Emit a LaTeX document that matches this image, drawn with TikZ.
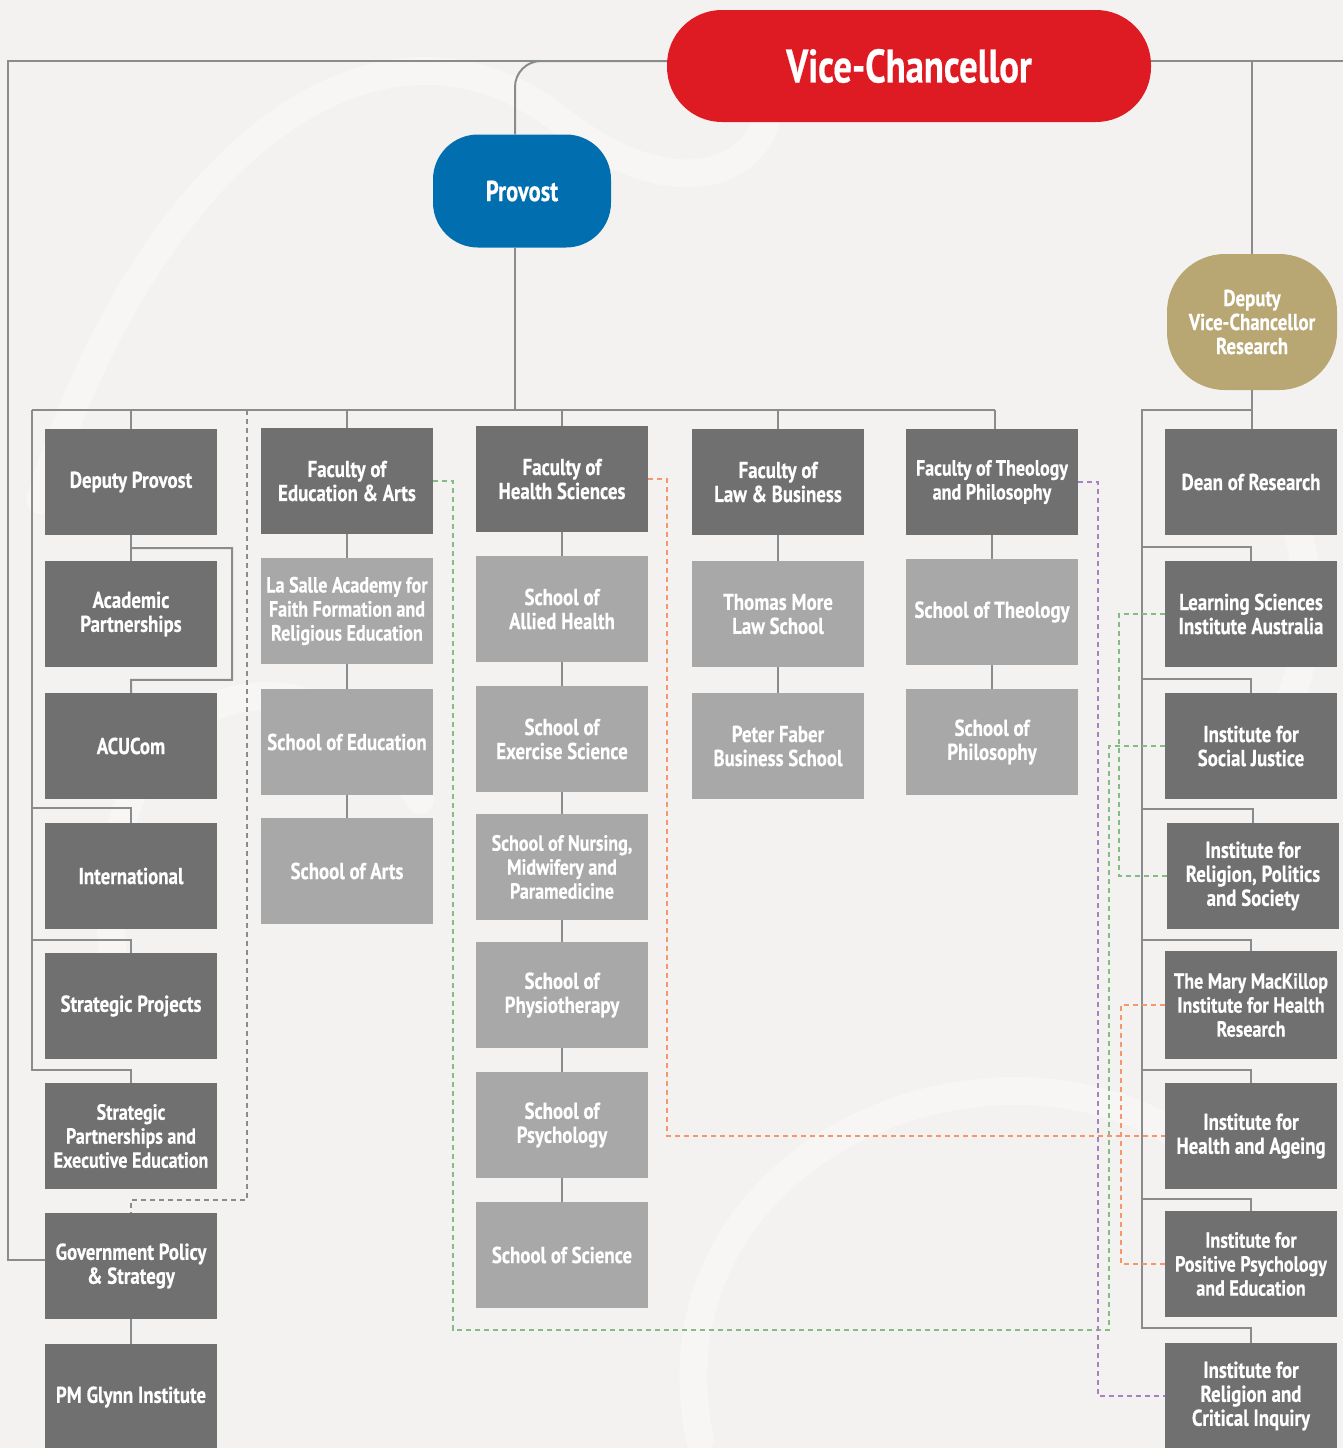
\documentclass[tikz,border=0pt]{standalone}
\usepackage{fontspec}
\newfontfamily\labfont{PT Sans}[FakeStretch=0.82, FakeBold=0.4]
\newfontfamily\topfont{PT Sans}[FakeStretch=0.78, FakeBold=0.4]
\usetikzlibrary{calc,backgrounds}
\definecolor{bgc}{HTML}{F3F2F0}
\definecolor{swirl}{HTML}{F7F6F4}
\definecolor{darkbox}{HTML}{707070}
\definecolor{lightbox}{HTML}{A9A8A9}
\definecolor{vcred}{HTML}{DE1B22}
\definecolor{provblue}{HTML}{006EAF}
\definecolor{gold}{HTML}{B8A773}
\definecolor{linec}{HTML}{898B8D}
\definecolor{dgreen}{HTML}{86BC84}
\definecolor{dorange}{HTML}{F4976D}
\definecolor{dpurple}{HTML}{A881C0}
\newcommand\boxfont{\labfont\bfseries\fontsize{23}{24}\selectfont}
\newcommand\smallboxfont{\labfont\bfseries\fontsize{22}{24}\selectfont}
\tikzset{
  dbox/.style={fill=darkbox, text=white, minimum width=172pt, minimum height=106pt, inner sep=0pt, align=center, font=\boxfont},
  lbox/.style={dbox, fill=lightbox},
  conn/.style={draw=linec, line width=2pt},
  dsh/.style={line width=1.6pt, dash pattern=on 5pt off 4pt},
  gdash/.style={dsh, draw=linec},
  grdash/.style={dsh, draw=dgreen},
  ordash/.style={dsh, draw=dorange},
  pudash/.style={dsh, draw=dpurple}
}
\begin{document}
\begin{tikzpicture}[x=1pt,y=-1pt]
\useasboundingbox (0,0) rectangle (1343,1448);

% top nodes
\node[fill=vcred, text=white, rounded corners=55pt, minimum width=484pt, minimum height=112pt, inner sep=0pt, font=\topfont\bfseries\fontsize{47}{50}\selectfont] (vc) at (909,66) {Vice-Chancellor};
\node[fill=provblue, text=white, rounded corners=45pt, minimum width=178pt, minimum height=113pt, inner sep=0pt, font=\topfont\bfseries\fontsize{29}{30}\selectfont] (prov) at (522,191) {Provost};
\node[fill=gold, text=white, rounded corners=58pt, minimum width=170pt, minimum height=136pt, inner sep=0pt, align=center, font=\labfont\bfseries\fontsize{23}{24}\selectfont] (dvc) at (1252,322) {Deputy\\Vice-Chancellor\\Research};

% left column
\node[dbox] (dp) at (131,482) {Deputy Provost};
\node[dbox] (ap) at (131,614) {Academic\\Partnerships};
\node[dbox] (acu) at (131,746) {ACUCom};
\node[dbox] (intl) at (131,876) {International};
\node[dbox] (sproj) at (131,1006) {Strategic Projects};
\node[dbox, font=\smallboxfont] (sppe) at (131,1136) {Strategic\\Partnerships and\\Executive Education};
\node[dbox] (gps) at (131,1266) {Government Policy\\\& Strategy};
\node[dbox] (pmg) at (131,1397) {PM Glynn Institute};

% education & arts
\node[dbox] (fea) at (347,481) {Faculty of\\Education \& Arts};
\node[lbox, font=\smallboxfont] (lasalle) at (347,611) {La Salle Academy for\\Faith Formation and\\Religious Education};
\node[lbox] (soe) at (347,742) {School of Education};
\node[lbox] (soa) at (347,871) {School of Arts};

% health sciences
\node[dbox] (fhs) at (562,479) {Faculty of\\Health Sciences};
\node[lbox] (sah) at (562,609) {School of\\Allied Health};
\node[lbox] (ses) at (562,739) {School of\\Exercise Science};
\node[lbox, font=\smallboxfont] (snmp) at (562,867) {School of Nursing,\\Midwifery and\\Paramedicine};
\node[lbox] (sphys) at (562,995) {School of\\Physiotherapy};
\node[lbox] (spsy) at (562,1125) {School of\\Psychology};
\node[lbox] (ssci) at (562,1255) {School of Science};

% law & business
\node[dbox] (flb) at (778,482) {Faculty of\\Law \& Business};
\node[lbox] (tmls) at (778,614) {Thomas More\\Law School};
\node[lbox] (pfbs) at (778,746) {Peter Faber\\Business School};

% theology & philosophy
\node[dbox, font=\smallboxfont] (fth) at (992,482) {Faculty of Theology\\and Philosophy};
\node[lbox] (sth) at (992,612) {School of Theology};
\node[lbox] (sph) at (992,742) {School of\\Philosophy};

% research column
\node[dbox] (dor) at (1251,482) {Dean of Research};
\node[dbox] (lsia) at (1251,614) {Learning Sciences\\Institute Australia};
\node[dbox] (isj) at (1251,746) {Institute for\\Social Justice};
\node[dbox] (irps) at (1253,876) {Institute for\\Religion, Politics\\and Society};
\node[dbox, minimum height=108pt, font=\smallboxfont] (mmk) at (1251,1005) {The Mary MacKillop\\Institute for Health\\Research};
\node[dbox] (iha) at (1251,1136) {Institute for\\Health and Ageing};
\node[dbox, font=\smallboxfont] (ippe) at (1251,1264) {Institute for\\Positive Psychology\\and Education};
\node[dbox] (irci) at (1251,1396) {Institute for\\Religion and\\Critical Inquiry};

\begin{pgfonlayer}{background}
\fill[bgc] (0,0) rectangle (1343,1448);
% faint background swirls
\begin{scope}[draw=swirl, line width=28pt, line cap=round]
\draw (40,500) .. controls (150,150) and (380,-20) .. (560,120);
\draw (560,120) .. controls (700,230) and (800,150) .. (760,60);
\draw (120,1000) .. controls (60,700) and (300,600) .. (420,800);
\draw (700,1440) .. controls (640,1150) and (1000,1000) .. (1200,1150);
\draw (1200,500) .. controls (1300,420) and (1330,600) .. (1290,700);
\end{scope}

% coordinates
\coordinate (busL) at (32,410);
\coordinate (busR) at (995,410);
\coordinate (vcL) at (8,61);
\coordinate (vcw) at ($(vc.west)+(0,-5)$);
\coordinate (vce) at ($(vc.east)+(0,-5)$);
\coordinate (rbus) at (1142,410);

% vice-chancellor links
\draw[conn] (vcw) -- (vcL) -- (8,1260) -- (gps.west |- 0,1260);
\draw[conn] (vce) -- (1343,61);
\draw[conn] (dvc.north |- vce) -- (dvc.north);
\draw[conn, rounded corners=26pt] ($(prov.north)+(-7,0)$) |- (vcw);

% provost bus
\draw[conn] ($(prov.south)+(-7,0)$) -- (515,410);
\draw[conn] (busL) -- (busR);
\draw[conn] (dp.north |- busL) -- (dp.north);
\draw[conn] (fea.north |- busL) -- (fea.north);
\draw[conn] (fhs.north |- busL) -- (fhs.north);
\draw[conn] (flb.north |- busL) -- (flb.north);
\draw[conn] (busR) -- (fth.north -| busR);

% left column links
\draw[conn] (busL) -- (32,1070) -| (sppe.north);
\draw[conn] (32,808) -| (intl.north);
\draw[conn] (32,940) -| (sproj.north);
\draw[conn] (dp.south) -- (ap.north);
\draw[conn] ($(dp.south)+(0,13)$) -- (232,548) |- ($(acu.north)+(0,-13)$) -- (acu.north);
\draw[gdash] (247,410) -- (247,1200) -| (gps.north);
\draw[conn] (gps.south) -- (pmg.north);

% faculty columns
\draw[conn] (fea.south) -- (lasalle.north) (lasalle.south) -- (soe.north) (soe.south) -- (soa.north);
\draw[conn] (fhs.south) -- (sah.north) (sah.south) -- (ses.north) (ses.south) -- (snmp.north)
  (snmp.south) -- (sphys.north) (sphys.south) -- (spsy.north) (spsy.south) -- (ssci.north);
\draw[conn] (flb.south) -- (tmls.north) (tmls.south) -- (pfbs.north);
\draw[conn] (fth.south) -- (sth.north) (sth.south) -- (sph.north);

% research column links
\draw[conn] (dvc.south) -- (dvc.south |- dor.north);
\draw[conn] (dvc.south |- rbus) -- (rbus) -- (1142,1328) -| (irci.north);
\draw[conn] (1142,547) -| (lsia.north);
\draw[conn] (1142,679) -| (isj.north);
\draw[conn] (1142,809) -| (irps.north);
\draw[conn] (1142,940) -| (mmk.north);
\draw[conn] (1142,1070) -| (iha.north);
\draw[conn] (1142,1199) -| (ippe.north);

% dashed links
\draw[grdash] (fea.east) -- (453,481) |- (1109,1330) |- (isj.west);
\draw[grdash] (lsia.west) -- ++(-46,0) |- (irps.west);
\draw[ordash] (fhs.east) -- (667,479) |- (iha.west);
\draw[ordash] (mmk.west) -- ++(-44,0) |- (ippe.west);
\draw[pudash] (fth.east) -- (1098,482) |- (irci.west);
\end{pgfonlayer}
\end{tikzpicture}
\end{document}
